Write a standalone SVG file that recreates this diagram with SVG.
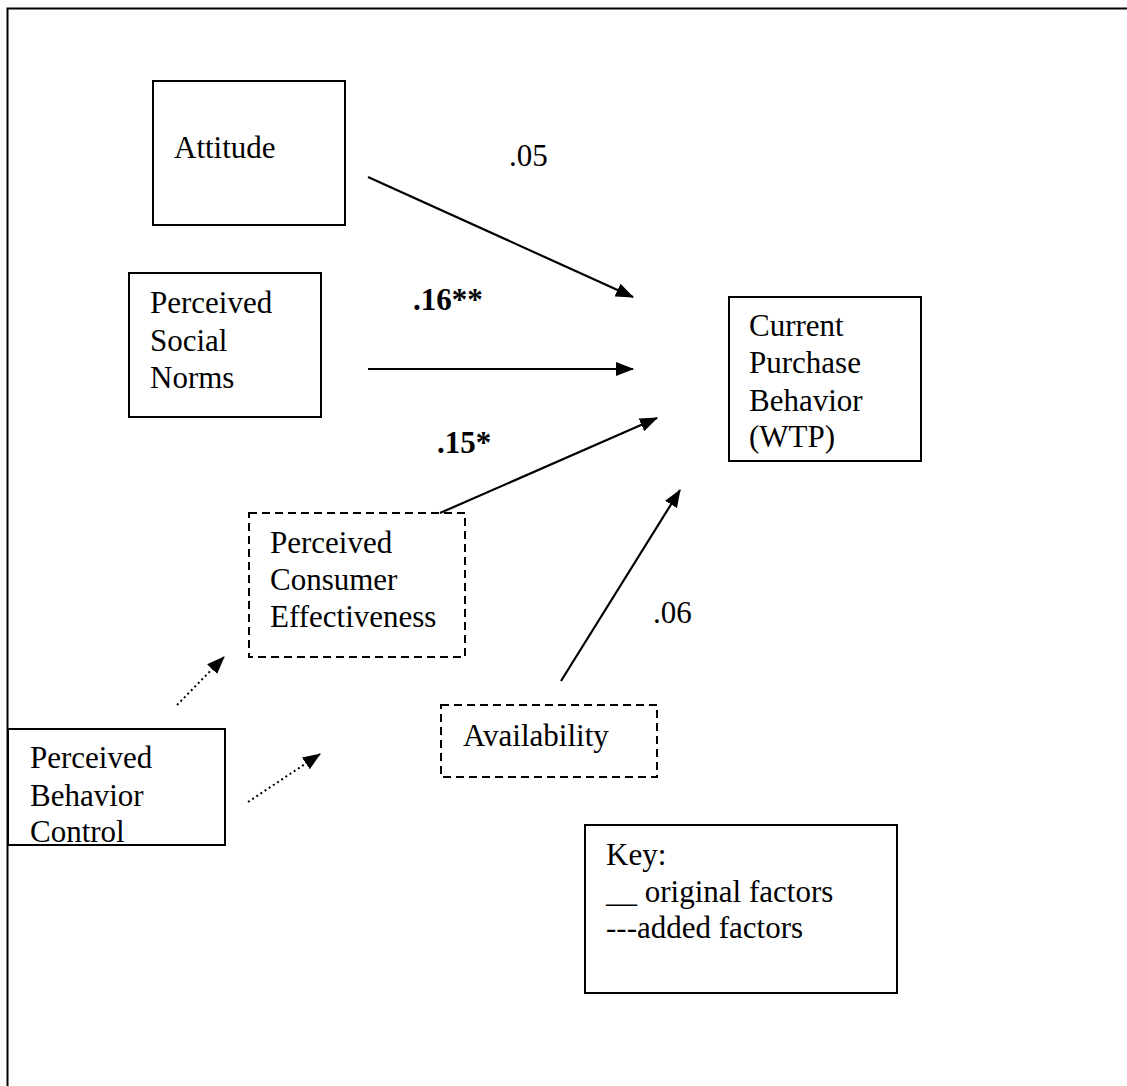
<svg xmlns="http://www.w3.org/2000/svg" width="1127" height="1086" viewBox="0 0 1127 1086">
<style>
text{font-family:"Liberation Serif","Times New Roman",serif;font-size:31px;fill:#000}
.b{font-weight:bold}
.box{fill:#fff;stroke:#000;stroke-width:2}
.dbox{fill:#fff;stroke:#000;stroke-width:2;stroke-dasharray:8 5}
.ln{stroke:#000;stroke-width:2.2;fill:none}
.dot{stroke:#000;stroke-width:2;fill:none;stroke-dasharray:2 3}
</style>
<defs>
<marker id="ah" markerUnits="userSpaceOnUse" markerWidth="18" markerHeight="14" viewBox="0 0 18 14" refX="17" refY="7" orient="auto">
<path d="M0,0 L18,7 L0,14 Z" fill="#000"/>
</marker>
</defs>
<rect width="1127" height="1086" fill="#fff"/>
<path d="M7.5,1090 V8.5 H1130" fill="none" stroke="#000" stroke-width="2"/>
<g id="attitude"><rect class="box" x="153" y="81" width="192" height="144"/><text x="174" y="158">Attitude</text></g>
<g id="social-norms"><rect class="box" x="129" y="273" width="192" height="144"/><text x="150" y="313">Perceived</text><text x="150" y="351">Social</text><text x="150" y="388">Norms</text></g>
<g id="current-purchase"><rect class="box" x="729" y="297" width="192" height="164"/><text x="749" y="336">Current</text><text x="749" y="373">Purchase</text><text x="749" y="411">Behavior</text><text x="749" y="447">(WTP)</text></g>
<g id="pce"><rect class="dbox" x="249" y="513" width="216" height="144"/><text x="270" y="553">Perceived</text><text x="270" y="590">Consumer</text><text x="270" y="627">Effectiveness</text></g>
<g id="availability"><rect class="dbox" x="441" y="705" width="216" height="72"/><text x="463" y="746">Availability</text></g>
<g id="pbc"><rect class="box" x="8" y="729" width="217" height="116"/><text x="30" y="768">Perceived</text><text x="30" y="806">Behavior</text><text x="30" y="842">Control</text></g>
<g id="key"><rect class="box" x="585" y="825" width="312" height="168"/><text x="606" y="865">Key:</text><text x="606" y="902">__ original factors</text><text x="606" y="938">---added factors</text></g>
<g id="connectors">
<line class="ln" x1="368" y1="177" x2="633" y2="297" marker-end="url(#ah)"/>
<line class="ln" x1="368" y1="369" x2="633" y2="369" marker-end="url(#ah)"/>
<line class="ln" x1="440" y1="513" x2="657" y2="418" marker-end="url(#ah)"/>
<line class="ln" x1="561" y1="681" x2="680" y2="490" marker-end="url(#ah)"/>
<line class="dot" x1="177" y1="705" x2="224" y2="657" marker-end="url(#ah)"/>
<line class="dot" x1="248" y1="802" x2="320" y2="754" marker-end="url(#ah)"/>
<text x="509" y="166">.05</text>
<text class="b" x="413" y="310">.16**</text>
<text class="b" x="437" y="453">.15*</text>
<text x="653" y="623">.06</text>
</g>
</svg>
